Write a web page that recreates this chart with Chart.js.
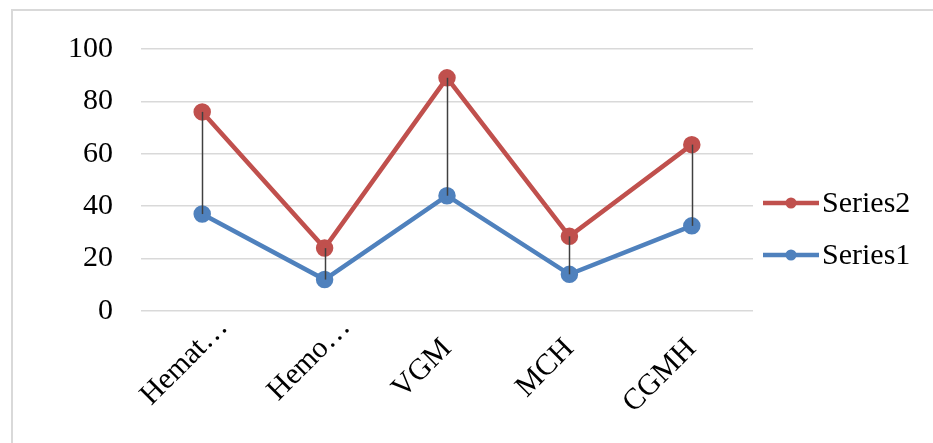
<!DOCTYPE html>
<html>
<head>
<meta charset="utf-8">
<script src="https://cdn.jsdelivr.net/npm/chart.js@4"></script>
<style>
  html, body { margin: 0; padding: 0; background: #ffffff; }
  #wrap { position: relative; width: 933px; height: 443px; overflow: hidden; }
  #frame { position: absolute; left: 11px; top: 9px; width: 1000px; height: 500px;
           border: 2px solid #d9d9d9; box-sizing: border-box; }
  canvas { position: absolute; left: 0; top: 0; }
</style>
</head>
<body>
<div id="wrap">
  <div id="frame"></div>
  <canvas id="chart" width="933" height="443"></canvas>
</div>
<script>
const categories = ["Hemat\u2026", "Hemo\u2026", "VGM", "MCH", "CGMH"];
const series1 = [37, 12, 44, 14, 32.5];
const series2 = [76, 24, 89, 28.5, 63.5];
const yTicks = [0, 20, 40, 60, 80, 100];

const FONT = "'Liberation Serif', 'Times New Roman', serif";
const RED = "#C0504D";
const BLUE = "#4F81BD";
const ELLIPSIS = "\u2026";

// Vertical high-low lines joining the two series at each category
const dropLines = {
  id: "dropLines",
  afterDatasetsDraw(chart) {
    const ctx = chart.ctx;
    const a = chart.getDatasetMeta(0).data;
    const b = chart.getDatasetMeta(1).data;
    ctx.save();
    ctx.strokeStyle = "#404040";
    ctx.lineWidth = 1.5;
    for (let i = 0; i < a.length; i++) {
      ctx.beginPath();
      ctx.moveTo(Math.round(a[i].x) + 0.5, a[i].y);
      ctx.lineTo(Math.round(b[i].x) + 0.5, b[i].y);
      ctx.stroke();
    }
    ctx.restore();
  }
};

// Category labels rotated 45 degrees; a trailing ellipsis hangs past the anchor
const slantLabels = {
  id: "slantLabels",
  afterDraw(chart) {
    const ctx = chart.ctx;
    const xs = chart.scales.x;
    const y0 = chart.chartArea.bottom + 33;
    ctx.save();
    ctx.fillStyle = "#000000";
    ctx.font = "30px " + FONT;
    ctx.textBaseline = "middle";
    chart.data.labels.forEach((lab, i) => {
      const cut = lab.endsWith(ELLIPSIS);
      const head = cut ? lab.slice(0, -1) : lab;
      const x = xs.getPixelForTick(i);
      ctx.save();
      ctx.translate(x, y0);
      ctx.rotate(-Math.PI / 4);
      ctx.textAlign = "right";
      ctx.fillText(head, 0, 0);
      if (cut) {
        ctx.textAlign = "left";
        ctx.fillText(ELLIPSIS, 0, 0);
      }
      ctx.restore();
    });
    ctx.restore();
  }
};

// Legend on the right: line sample with a marker, then the series name
const sideLegend = {
  id: "sideLegend",
  afterDraw(chart) {
    const ctx = chart.ctx;
    const area = chart.chartArea;
    const x0 = area.right + 10;
    const rows = [
      { ds: chart.data.datasets[1], y: 203 },
      { ds: chart.data.datasets[0], y: 255 }
    ];
    ctx.save();
    for (const r of rows) {
      ctx.strokeStyle = r.ds.borderColor;
      ctx.lineWidth = 4.5;
      ctx.beginPath();
      ctx.moveTo(x0, r.y);
      ctx.lineTo(x0 + 56, r.y);
      ctx.stroke();
      ctx.fillStyle = r.ds.borderColor;
      ctx.beginPath();
      ctx.arc(x0 + 28, r.y, 5.5, 0, Math.PI * 2);
      ctx.fill();
      ctx.fillStyle = "#000000";
      ctx.font = "30px " + FONT;
      ctx.textBaseline = "middle";
      ctx.textAlign = "left";
      ctx.fillText(r.ds.label, x0 + 59, r.y + 1);
    }
    ctx.restore();
  }
};

new Chart(document.getElementById("chart"), {
  type: "line",
  data: {
    labels: categories,
    datasets: [
      { label: "Series1", data: series1, borderColor: BLUE, backgroundColor: BLUE,
        borderWidth: 4.5, pointRadius: 6.5, pointHoverRadius: 6.5, tension: 0 },
      { label: "Series2", data: series2, borderColor: RED, backgroundColor: RED,
        borderWidth: 4.5, pointRadius: 6.5, pointHoverRadius: 6.5, tension: 0 }
    ]
  },
  options: {
    responsive: false,
    animation: false,
    events: [],
    layout: { padding: { top: 49, right: 180, bottom: 0, left: 0 } },
    plugins: { legend: { display: false }, tooltip: { enabled: false } },
    scales: {
      x: {
        offset: true,
        grid: { display: false, drawTicks: false },
        border: { display: false },
        ticks: { display: false },
        afterFit(scale) { scale.height = 132; }
      },
      y: {
        min: 0, max: 100,
        afterBuildTicks(scale) { scale.ticks = yTicks.map(v => ({ value: v })); },
        grid: { color: "#d9d9d9", lineWidth: 1.5, drawTicks: false },
        border: { display: false },
        ticks: { color: "#000000", font: { family: FONT, size: 30 }, padding: 28 },
        afterFit(scale) { scale.width = 141; }
      }
    }
  },
  plugins: [dropLines, slantLabels, sideLegend]
});
</script>
</body>
</html>
